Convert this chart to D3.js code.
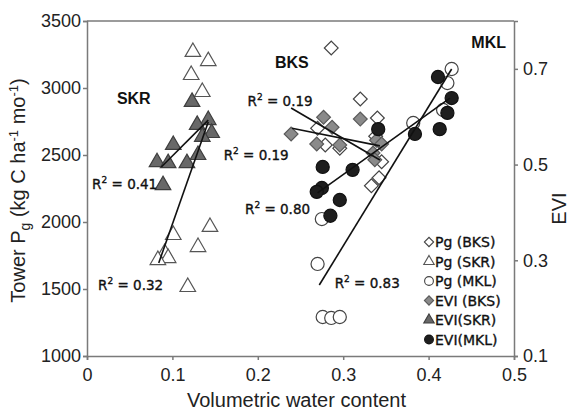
<!DOCTYPE html>
<html>
<head>
<meta charset="utf-8">
<script src="https://cdn.jsdelivr.net/npm/d3@7"></script>
<style>
  body { margin: 0; background: #fff; }
  text { font-family: "Liberation Sans", Arial, sans-serif; }
</style>
</head>
<body>
<div id="viz"></div>
<script>
// dimensions and margin of the svg
const width = 577
const height = 410
const margin = {left: 87, top: 21, right: 63, bottom: 54}

const g_width = width - margin.left - margin.right;
const g_height = height - margin.top - margin.bottom;

// Pg points [water content, Pg]
const pgBKS = [[0.286, 3299], [0.320, 2918], [0.340, 2776], [0.270, 2700], [0.279, 2575],
               [0.296, 2550], [0.338, 2640], [0.345, 2450], [0.342, 2330], [0.333, 2270]];
const pgSKR = [[0.124, 3269], [0.142, 3201], [0.122, 3097], [0.135, 2970], [0.144, 1963],
               [0.101, 1903], [0.130, 1813], [0.091, 1769], [0.095, 1731], [0.083, 1716], [0.118, 1515]];
const pgMKL = [[0.427, 3142], [0.422, 3037], [0.417, 2836], [0.382, 2739], [0.275, 2022],
               [0.270, 1687], [0.276, 1291], [0.286, 1284], [0.296, 1291]];

// EVI points [water content, EVI]
const eviBKS = [[0.277, 0.599], [0.320, 0.595], [0.287, 0.578], [0.239, 0.564], [0.269, 0.543],
                [0.296, 0.541], [0.339, 0.551], [0.345, 0.543], [0.335, 0.524], [0.337, 0.510]];
const eviSKR = [[0.123, 0.631], [0.142, 0.593], [0.129, 0.583], [0.146, 0.566], [0.135, 0.558],
                [0.101, 0.541], [0.130, 0.520], [0.117, 0.503], [0.082, 0.505], [0.095, 0.503], [0.089, 0.457]];
const eviMKL = [[0.411, 0.683], [0.427, 0.639], [0.422, 0.608], [0.413, 0.574], [0.384, 0.564],
                [0.341, 0.574], [0.311, 0.489], [0.276, 0.495], [0.275, 0.451], [0.269, 0.443],
                [0.296, 0.426], [0.285, 0.393]];

// trend lines: endpoints, axis = which y scale
const trendLines = [
  {axis: "pg",  pts: [[0.084, 1694], [0.142, 2746]]},
  {axis: "evi", pts: [[0.087, 0.495], [0.142, 0.593]]},
  {axis: "pg",  pts: [[0.239, 2851], [0.343, 2463]]},
  {axis: "evi", pts: [[0.240, 0.576], [0.343, 0.539]]},
  {axis: "pg",  pts: [[0.272, 1530], [0.427, 3142]]},
  {axis: "evi", pts: [[0.270, 0.441], [0.425, 0.639]]}
];

// R2 labels [x, Pg-scale y, text]
const r2Labels = [[0.006, 2245, "0.41"], [0.013, 1495, "0.32"], [0.188, 2865, "0.19"],
                  [0.160, 2460, "0.19"], [0.185, 2060, "0.80"], [0.290, 1510, "0.83"]];
const siteLabels = [[0.035, 2880, "SKR"], [0.220, 3150, "BKS"], [0.450, 3300, "MKL"]];

const xTicks = [0, 0.1, 0.2, 0.3, 0.4, 0.5];
const pgTicks = [1000, 1500, 2000, 2500, 3000, 3500];
const eviTicks = [0.1, 0.3, 0.5, 0.7];
const legendItems = ["Pg (BKS)", "Pg (SKR)", " Pg (MKL)", "EVI (BKS)", "EVI(SKR)", "EVI(MKL)"];

const svg = d3.select("#viz")
    .append("svg")
    .attr("width", width)
    .attr("height", height)
    .append("g")
    .attr("transform", "translate(" + margin.left + "," + margin.top + ")");

const x = d3.scaleLinear().domain([0, 0.5]).range([0, g_width]);
const y = d3.scaleLinear().domain([1000, 3500]).range([g_height, 0]);
const y2 = d3.scaleLinear().domain([0.1, 0.8]).range([g_height, 0]);

const axisColor = "#7a7a7a";

// axes
const xAxis = svg.append("g")
    .attr("transform", "translate(0," + g_height + ")")
    .call(d3.axisBottom(x).tickValues(xTicks).tickSize(4).tickPadding(8)
        .tickFormat(function(d) { return d === 0 ? "0" : d3.format(".1f")(d) }));
const yAxis = svg.append("g")
    .call(d3.axisLeft(y).tickValues(pgTicks).tickSize(4).tickPadding(2).tickFormat(d3.format("d")));
const y2Axis = svg.append("g")
    .attr("transform", "translate(" + g_width + ",0)")
    .call(d3.axisRight(y2).tickValues(eviTicks).tickSize(4).tickPadding(5).tickFormat(d3.format(".1f")));

[xAxis, yAxis, y2Axis].forEach(function(a) {
  a.selectAll("path, line").attr("stroke", axisColor).attr("stroke-width", 1.5);
  a.selectAll("text").style("font-size", "18px").attr("fill", "#222")
    .style("font-family", "'Liberation Sans', Arial, sans-serif");
});

// top border
svg.append("line")
    .attr("x1", 0).attr("x2", g_width).attr("y1", 0).attr("y2", 0)
    .attr("stroke", axisColor).attr("stroke-width", 1.5);

// axis labels
svg.append("text")
    .attr("x", g_width / 2 - 4)
    .attr("y", g_height + 51)
    .attr("text-anchor", "middle")
    .style("font-size", "20px")
    .attr("fill", "#222")
    .text("Volumetric water content");

const yl = svg.append("text")
    .attr("transform", "translate(-62," + (g_height / 2 + 2) + ")rotate(-90)")
    .attr("text-anchor", "middle")
    .style("font-size", "20px")
    .attr("fill", "#222");
yl.append("tspan").text("Tower P");
yl.append("tspan").attr("dy", 5).style("font-size", "14px").text("g");
yl.append("tspan").attr("dy", -5).text(" (kg C ha");
yl.append("tspan").attr("dy", -7).style("font-size", "13px").text("-1");
yl.append("tspan").attr("dy", 7).text(" mo");
yl.append("tspan").attr("dy", -7).style("font-size", "13px").text("-1");
yl.append("tspan").attr("dy", 7).text(")");

svg.append("text")
    .attr("transform", "translate(" + (g_width + 52) + "," + (g_height / 2 + 20) + ")rotate(-90)")
    .attr("text-anchor", "middle")
    .style("font-size", "20px")
    .attr("fill", "#222")
    .text("EVI");

// symbol helpers
const shapes = {
  diamond: function(s) { return d3.symbol().type(d3.symbolSquare).size(s)() },
  triangle: function(s) { return d3.symbol().type(d3.symbolTriangle).size(s)() },
  circle: function(s) { return d3.symbol().type(d3.symbolCircle).size(s)() }
};

const series = [
  {data: pgBKS,  scale: y,  shape: "diamond",  size: 95,  fill: "#fff",    stroke: "#444"},
  {data: pgSKR,  scale: y,  shape: "triangle", size: 105, fill: "#fff",    stroke: "#555"},
  {data: pgMKL,  scale: y,  shape: "circle",   size: 135, fill: "#fff",    stroke: "#444"},
  {data: eviBKS, scale: y2, shape: "diamond",  size: 95,  fill: "#8a8a8a", stroke: "#5a5a5a"},
  {data: eviSKR, scale: y2, shape: "triangle", size: 105, fill: "#686868", stroke: "#3e3e3e"},
  {data: eviMKL, scale: y2, shape: "circle",   size: 135, fill: "#1e1e1e", stroke: "#111"}
];

series.forEach(function(s) {
  svg.append("g")
    .selectAll("path")
    .data(s.data)
    .enter()
    .append("path")
    .attr("d", shapes[s.shape](s.size))
    .attr("transform", function(d) {
      return "translate(" + x(d[0]) + "," + s.scale(d[1]) + ")" + (s.shape === "diamond" ? "rotate(45)" : "");
    })
    .attr("fill", s.fill)
    .attr("stroke", s.stroke)
    .attr("stroke-width", 1.2);
});

// trend lines
svg.append("g")
  .selectAll("line")
  .data(trendLines)
  .enter()
  .append("line")
  .attr("x1", function(d) { return x(d.pts[0][0]) })
  .attr("y1", function(d) { return (d.axis === "pg" ? y : y2)(d.pts[0][1]) })
  .attr("x2", function(d) { return x(d.pts[1][0]) })
  .attr("y2", function(d) { return (d.axis === "pg" ? y : y2)(d.pts[1][1]) })
  .attr("stroke", "#111")
  .attr("stroke-width", 1.6);

// R2 labels
r2Labels.forEach(function(d) {
  const t = svg.append("text")
    .attr("x", x(d[0]))
    .attr("y", y(d[1]))
    .style("font-family", "'DejaVu Sans', Verdana, sans-serif")
    .style("font-size", "13.5px")
    .attr("fill", "#111")
    .attr("stroke", "#111")
    .attr("stroke-width", 0.35);
  t.append("tspan").text("R");
  t.append("tspan").attr("dy", -6).style("font-size", "9px").text("2");
  t.append("tspan").attr("dy", 6).text(" = " + d[2]);
});

// site labels
svg.append("g")
  .selectAll("text")
  .data(siteLabels)
  .enter()
  .append("text")
  .attr("x", function(d) { return x(d[0]) })
  .attr("y", function(d) { return y(d[1]) })
  .style("font-size", "16px")
  .style("font-weight", "bold")
  .attr("fill", "#111")
  .text(function(d) { return d[2] });

// legend
const legend = svg.append("g").attr("transform", "translate(342,221)");
legendItems.forEach(function(name, i) {
  const s = series[i];
  legend.append("path")
    .attr("d", shapes[s.shape](s.size * 0.45))
    .attr("transform", "translate(0," + (i * 19.5) + ")" + (s.shape === "diamond" ? "rotate(45)" : ""))
    .attr("fill", s.fill)
    .attr("stroke", s.stroke)
    .attr("stroke-width", 1.1);
  legend.append("text")
    .attr("x", 6)
    .attr("y", i * 19.5 + 5)
    .style("font-family", "'DejaVu Sans', Verdana, sans-serif")
    .style("font-size", "14px")
    .attr("fill", "#111")
    .attr("stroke", "#111")
    .attr("stroke-width", 0.35)
    .text(name);
});
</script>
</body>
</html>
